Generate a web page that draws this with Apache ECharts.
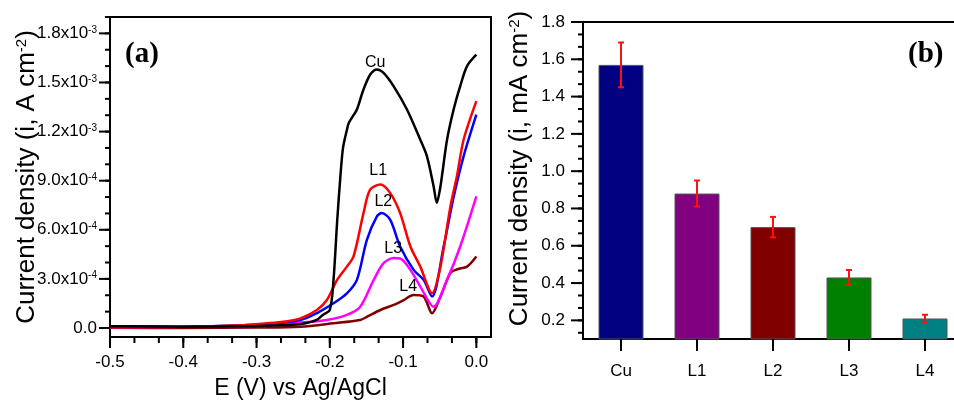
<!DOCTYPE html>
<html>
<head>
<meta charset="utf-8">
<script src="https://cdn.jsdelivr.net/npm/echarts@6/dist/echarts.min.js"></script>
<style>
html, body { margin: 0; padding: 0; background: #fff; }
#chart { width: 954px; height: 401px; }
</style>
</head>
<body>
<div id="chart"></div>
<script>
// (a) current density vs potential, [E (V), i (A cm-2)]
var cuCurve = [[-0.5, 0.10e-4], [-0.4, 0.08e-4], [-0.3, 0.12e-4], [-0.25, 0.2e-4], [-0.233, 0.29e-4],
    [-0.218, 0.49e-4], [-0.2095, 0.8e-4], [-0.2, 1.1e-4], [-0.195, 2.9e-4], [-0.19, 6.5e-4], [-0.186, 9.0e-4],
    [-0.182, 11.0e-4], [-0.1767, 12.1e-4], [-0.1744, 12.5e-4], [-0.1676, 13.0e-4], [-0.163, 13.35e-4],
    [-0.154, 14.57e-4], [-0.1448, 15.49e-4], [-0.1357, 15.8e-4], [-0.1266, 15.59e-4], [-0.113, 14.78e-4],
    [-0.0947, 13.35e-4], [-0.0765, 11.5e-4], [-0.0674, 10.49e-4], [-0.0583, 8.65e-4], [-0.054, 7.65e-4],
    [-0.049, 8.65e-4], [-0.04, 11.5e-4], [-0.031, 13.35e-4], [-0.022, 14.78e-4], [-0.0127, 16.0e-4], [0, 16.7e-4]];
var l1Curve = [[-0.5, 0.05e-4], [-0.4, 0.08e-4], [-0.33, 0.15e-4], [-0.286, 0.29e-4], [-0.26, 0.4e-4],
    [-0.24, 0.59e-4], [-0.2176, 1.1e-4], [-0.204, 1.71e-4], [-0.19, 2.94e-4], [-0.1767, 3.75e-4],
    [-0.1676, 4.37e-4], [-0.154, 7.02e-4], [-0.145, 8.45e-4], [-0.131, 8.76e-4], [-0.1175, 8.24e-4],
    [-0.104, 7.02e-4], [-0.09, 4.98e-4], [-0.0765, 3.75e-4], [-0.0605, 2.12e-4], [-0.049, 3.75e-4],
    [-0.0355, 7.4e-4], [-0.0264, 9.3e-4], [-0.0174, 11.5e-4], [0, 13.86e-4]];
var l2Curve = [[-0.5, 0.1e-4], [-0.4, 0.08e-4], [-0.33, 0.15e-4], [-0.286, 0.25e-4], [-0.24, 0.49e-4],
    [-0.218, 0.9e-4], [-0.195, 1.51e-4], [-0.1767, 2.12e-4], [-0.163, 2.94e-4], [-0.1494, 5.39e-4],
    [-0.1357, 6.82e-4], [-0.129, 7.02e-4], [-0.1175, 6.61e-4], [-0.104, 4.98e-4], [-0.0856, 3.55e-4],
    [-0.072, 2.94e-4], [-0.0605, 1.92e-4], [-0.0446, 4.98e-4], [-0.031, 8.0e-4], [-0.0174, 10.49e-4], [0, 13.04e-4]];
var l3Curve = [[-0.5, 0.05e-4], [-0.4, 0.08e-4], [-0.3, 0.15e-4], [-0.24, 0.33e-4], [-0.204, 0.49e-4],
    [-0.1767, 0.8e-4], [-0.1585, 1.3e-4], [-0.14, 2.94e-4], [-0.1266, 3.96e-4], [-0.113, 4.27e-4],
    [-0.104, 4.25e-4], [-0.09, 3.55e-4], [-0.0765, 2.53e-4], [-0.0583, 1.3e-4], [-0.04, 2.94e-4],
    [-0.022, 4.98e-4], [0, 8.04e-4]];
var l4Curve = [[-0.5, 0.02e-4], [-0.4, 0.0], [-0.3, 0.03e-4], [-0.24, 0.08e-4], [-0.195, 0.29e-4],
    [-0.1585, 0.49e-4], [-0.149, 0.69e-4], [-0.131, 1.1e-4], [-0.113, 1.41e-4], [-0.099, 1.71e-4],
    [-0.0856, 2.02e-4], [-0.072, 1.92e-4], [-0.0605, 0.9e-4], [-0.049, 1.92e-4], [-0.0355, 3.35e-4],
    [-0.026, 3.59e-4], [-0.0127, 3.75e-4], [0, 4.37e-4]];
var curveNames = ['Cu', 'L1', 'L2', 'L3', 'L4'];
var curveColors = ['#000000', '#ff0000', '#0000ff', '#ff00ff', '#800000'];
var curveLabelAt = [[-0.138, 16.2e-4], [-0.134, 9.6e-4], [-0.127, 7.7e-4], [-0.1134, 4.84e-4], [-0.093, 2.51e-4]];
var xTicksA = [-0.5, -0.4, -0.3, -0.2, -0.1, 0.0];
var yTicksA = [0, 3e-4, 6e-4, 9e-4, 12e-4, 15e-4, 18e-4];

// (b) mean current density with error
var barCategories = ['Cu', 'L1', 'L2', 'L3', 'L4'];
var barValues = [1.57, 0.88, 0.70, 0.43, 0.21];
var barErrors = [0.12, 0.07, 0.055, 0.04, 0.02];
var barColors = ['#000080', '#800080', '#800000', '#008000', '#008080'];
var yTicksB = [0.2, 0.4, 0.6, 0.8, 1.0, 1.2, 1.4, 1.6, 1.8];

var chart = echarts.init(document.getElementById('chart'));
var FONT = '"Liberation Sans", Arial, sans-serif';

var xMinA = -0.5, xMaxA = 0.02, yMinA = -0.55e-4, yMaxA = 1.9e-3;
var yMinB = 0.1, yMaxB = 1.8;

// minor tick positions, n splits between majors, inside [lo, hi]
function minorTicks(major, n, lo, hi) {
    var step = (major[1] - major[0]) / n;
    var out = [];
    var v = major[0];
    while (v - step >= lo - 1e-12) v -= step;
    for (; v <= hi + 1e-12; v += step) out.push(+v.toPrecision(8));
    return out;
}

function sciLabel(v) {
    if (Math.abs(v) < 1e-12) return '0.0';
    var e = Math.floor(Math.log10(v) + 1e-9);
    var m = v / Math.pow(10, e);
    return m.toFixed(1) + 'x10{sup|' + e + '}';
}

var curves = [cuCurve, l1Curve, l2Curve, l3Curve, l4Curve];
var lineSeries = curves.map(function (d, i) {
    return {
        name: curveNames[i],
        type: 'line',
        xAxisIndex: 0,
        yAxisIndex: 0,
        data: d,
        symbol: 'none',
        smooth: 0.3,
        lineStyle: { color: curveColors[i], width: 2.5 },
        itemStyle: { color: curveColors[i] },
        markPoint: {
            symbol: 'circle',
            symbolSize: 0,
            silent: true,
            label: { show: true, position: 'inside', formatter: curveNames[i], color: '#000', fontSize: 16, fontFamily: FONT },
            data: [{ coord: curveLabelAt[i] }]
        },
        z: 5 - i
    };
});

// outward tick marks, placed through the axis scale
function tickSeries(gi, dim, points, len) {
    return {
        type: 'custom',
        xAxisIndex: gi === 0 ? 0 : 1,
        yAxisIndex: gi === 0 ? 0 : 1,
        clip: false,
        silent: true,
        z: 8,
        data: points,
        renderItem: function (params, api) {
            var cs = params.coordSys;
            var p = api.coord([api.value(0), api.value(1)]);
            var shape = dim === 'x'
                ? { x1: p[0], y1: cs.y + cs.height, x2: p[0], y2: cs.y + cs.height + len }
                : { x1: cs.x - len, y1: p[1], x2: cs.x, y2: p[1] };
            return { type: 'line', shape: shape, style: { stroke: '#000', lineWidth: 2 } };
        }
    };
}
function onX(values, yv) { return values.map(function (v) { return [v, yv]; }); }
function onY(values, xv) { return values.map(function (v) { return [xv, v]; }); }

function axisLine() {
    return { show: true, onZero: false, lineStyle: { color: '#000', width: 2 } };
}

var option = {
    animation: false,
    backgroundColor: '#fff',
    textStyle: { fontFamily: FONT, color: '#000' },
    grid: [
        { left: 110, top: 17, width: 381, height: 320, show: true, borderColor: '#000', borderWidth: 2, backgroundColor: 'transparent', containLabel: false, outerBoundsMode: 'none' },
        { left: 583, top: 22, right: -9, height: 317, show: true, borderColor: '#000', borderWidth: 2, backgroundColor: 'transparent', containLabel: false, outerBoundsMode: 'none' }
    ],
    xAxis: [
        {
            gridIndex: 0, type: 'value', min: xMinA, max: xMaxA, position: 'bottom',
            name: 'E (V) vs Ag/AgCl', nameLocation: 'middle', nameGap: 40,
            nameTextStyle: { fontSize: 23, color: '#000' },
            axisLine: axisLine(),
            axisTick: { show: false },
            axisLabel: { customValues: xTicksA, fontSize: 17, color: '#000', margin: 17, formatter: function (v) { return v.toFixed(1); } },
            splitLine: { show: false }
        },
        {
            gridIndex: 1, type: 'category', data: barCategories, position: 'bottom',
            axisLine: axisLine(),
            axisTick: { show: false },
            axisLabel: { fontSize: 17, color: '#000', margin: 24 },
            splitLine: { show: false }
        }
    ],
    yAxis: [
        {
            gridIndex: 0, type: 'value', min: yMinA, max: yMaxA, position: 'left',
            name: 'Current density (i, A cm{sup|-2})', nameLocation: 'middle', nameGap: 70, nameMoveOverlap: false,
            nameTextStyle: { fontSize: 26, color: '#000', rich: { sup: { fontSize: 15, verticalAlign: 'top', lineHeight: 14, color: '#000' } } },
            axisLine: axisLine(),
            axisTick: { show: false },
            axisLabel: {
                customValues: yTicksA, fontSize: 17, color: '#000', margin: 13, formatter: sciLabel,
                rich: { sup: { fontSize: 10, verticalAlign: 'top', lineHeight: 10, color: '#000' } }
            },
            splitLine: { show: false }
        },
        {
            gridIndex: 1, type: 'value', min: yMinB, max: yMaxB, position: 'left',
            name: 'Current density (i, mA cm{sup|-2})', nameLocation: 'middle', nameGap: 50,
            nameTextStyle: { fontSize: 26, color: '#000', padding: [0, 0, 0, 24], rich: { sup: { fontSize: 15, verticalAlign: 'top', lineHeight: 14, color: '#000' } } },
            axisLine: axisLine(),
            axisTick: { show: false },
            axisLabel: { customValues: yTicksB, fontSize: 17, color: '#000', margin: 18, formatter: function (v) { return v.toFixed(1); } },
            splitLine: { show: false }
        }
    ],
    graphic: [
        { type: 'text', left: 125, top: 40, style: { text: '(a)', font: 'bold 29px "Liberation Serif", "Times New Roman", serif', fill: '#000' } },
        { type: 'text', left: 908, top: 40, style: { text: '(b)', font: 'bold 29px "Liberation Serif", "Times New Roman", serif', fill: '#000' } }
    ],
    series: lineSeries.concat([
        {
            type: 'bar',
            xAxisIndex: 1,
            yAxisIndex: 1,
            barWidth: 45,
            data: barValues.map(function (v, i) {
                return { value: v, itemStyle: { color: barColors[i], borderColor: '#555', borderWidth: 1 } };
            }),
            z: 2
        },
        {
            type: 'custom',
            xAxisIndex: 1,
            yAxisIndex: 1,
            z: 10,
            encode: { x: 0, y: [1, 2] },
            data: barValues.map(function (v, i) { return [i, v - barErrors[i], v + barErrors[i]]; }),
            renderItem: function (params, api) {
                var lo = api.coord([api.value(0), api.value(1)]);
                var hi = api.coord([api.value(0), api.value(2)]);
                var w = 3;
                var st = { stroke: '#ff1010', lineWidth: 2 };
                return {
                    type: 'group',
                    children: [
                        { type: 'line', shape: { x1: lo[0], y1: lo[1], x2: hi[0], y2: hi[1] }, style: st },
                        { type: 'line', shape: { x1: hi[0] - w, y1: hi[1], x2: hi[0] + w, y2: hi[1] }, style: st },
                        { type: 'line', shape: { x1: lo[0] - w, y1: lo[1], x2: lo[0] + w, y2: lo[1] }, style: st }
                    ]
                };
            }
        },
        tickSeries(0, 'x', onX(xTicksA, yMinA), 11),
        tickSeries(0, 'x', onX(minorTicks(xTicksA, 3, xMinA, xMaxA), yMinA), 6),
        tickSeries(0, 'y', onY(yTicksA, xMinA), 11),
        tickSeries(0, 'y', onY(minorTicks(yTicksA, 3, yMinA, yMaxA), xMinA), 5),
        tickSeries(1, 'x', onX(barCategories.map(function (c, i) { return i; }), yMinB), 12),
        tickSeries(1, 'y', onY(yTicksB, 0), 12),
        tickSeries(1, 'y', onY(minorTicks(yTicksB, 3, yMinB, yMaxB), 0), 5)
    ])
};

chart.setOption(option);
</script>
</body>
</html>
